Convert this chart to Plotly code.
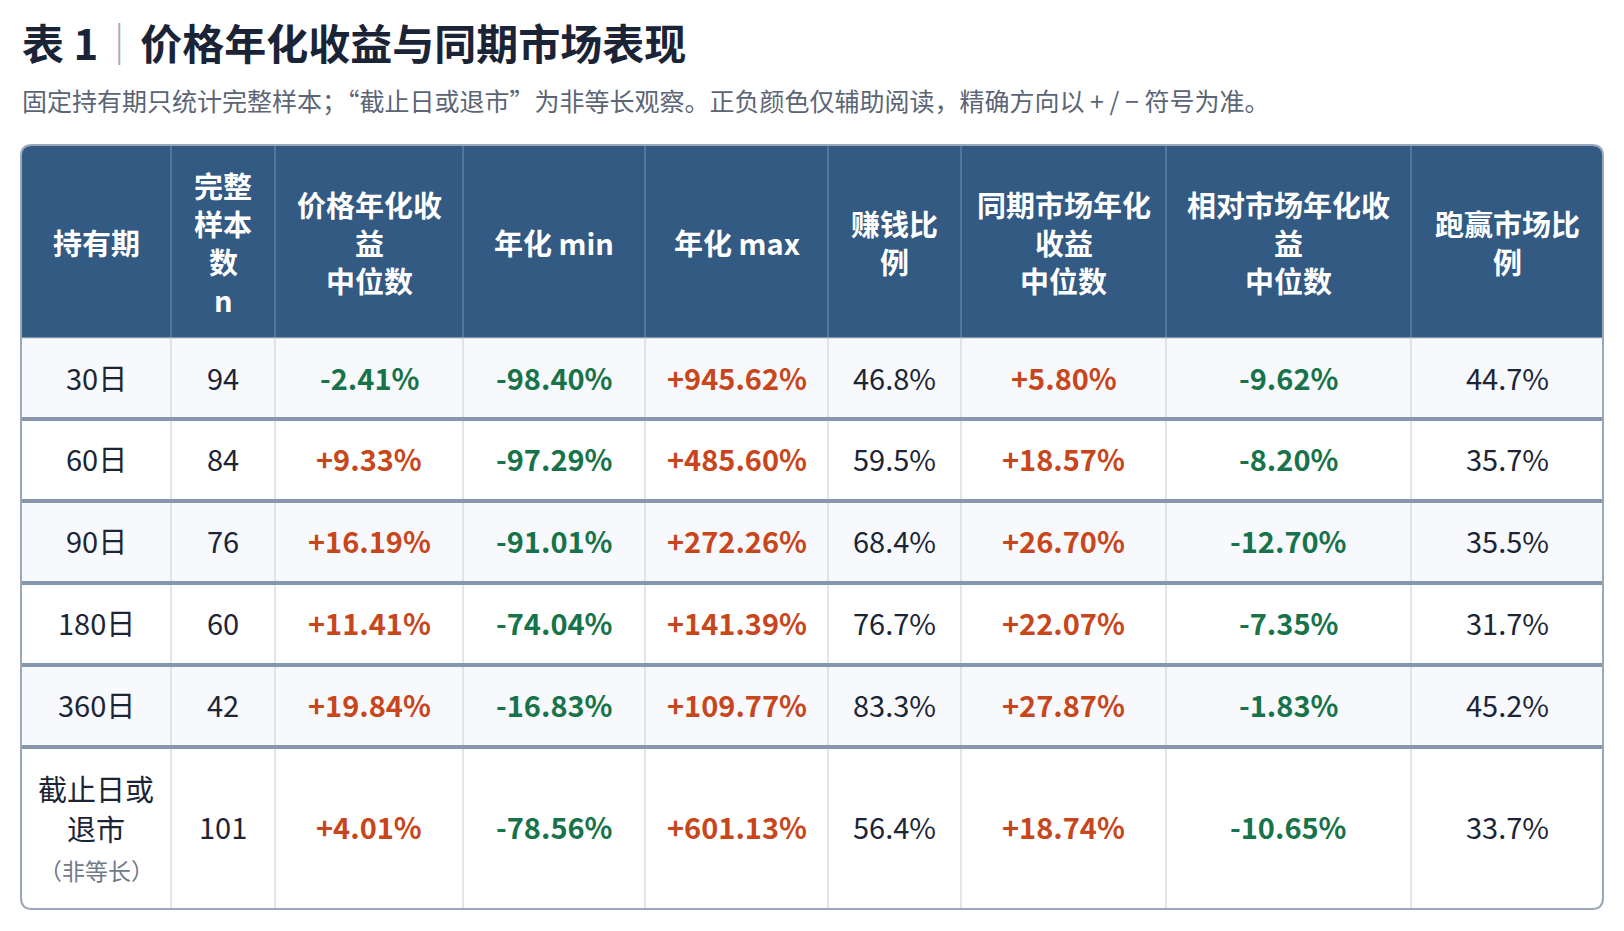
import plotly.graph_objects as go

# 数据
periods = ["30日", "60日", "90日", "180日", "360日", "截止日或退市"]
sample_n = [94, 84, 76, 60, 42, 101]
price_ann_median = [-2.41, 9.33, 16.19, 11.41, 19.84, 4.01]
ann_min = [-98.40, -97.29, -91.01, -74.04, -16.83, -78.56]
ann_max = [945.62, 485.60, 272.26, 141.39, 109.77, 601.13]
win_ratio = [46.8, 59.5, 68.4, 76.7, 83.3, 56.4]
market_ann_median = [5.80, 18.57, 26.70, 22.07, 27.87, 18.74]
rel_ann_median = [-9.62, -8.20, -12.70, -7.35, -1.83, -10.65]
beat_ratio = [44.7, 35.7, 35.5, 31.7, 45.2, 33.7]

headers = [
    ["持有期"],
    ["完整", "样本", "数", "n"],
    ["价格年化收", "益", "中位数"],
    ["年化 min"],
    ["年化 max"],
    ["赚钱比", "例"],
    ["同期市场年化", "收益", "中位数"],
    ["相对市场年化收", "益", "中位数"],
    ["跑赢市场比", "例"],
]

# 版式 (页面像素, body 有 8px 外边距)
FONT = "Noto Sans CJK SC"
HEAD_BG = "#335a82"
STRIPE = "#f7f9fc"
RED = "#c8461b"
GREEN = "#17734a"
INK = "#1b2536"
col_w = [150, 104, 188, 182, 183, 133, 205, 245, 192]
row_h = [81, 82, 82, 82, 82, 162]
left, top, head_h = 21, 145, 193
radius = 11

col_x = [left]
for w in col_w:
    col_x.append(col_x[-1] + w)
row_y = [top + head_h]
for h in row_h:
    row_y.append(row_y[-1] + h)
right, bottom = col_x[-1], row_y[-1]


def signed(v):
    return ("+" if v > 0 else "") + f"{v:.2f}%"


def sign_color(v):
    return RED if v > 0 else GREEN


shapes = []
annotations = []

# 表头底色 (上方圆角)
r = radius
shapes.append(dict(
    type="path", xref="x", yref="y", line=dict(width=0), fillcolor=HEAD_BG, layer="below",
    path=(f"M {left},{top + head_h} L {left},{top + r} Q {left},{top} {left + r},{top} "
          f"L {right - r},{top} Q {right},{top} {right},{top + r} L {right},{top + head_h} Z"),
))

# 斑马纹
for i in range(len(periods)):
    if i % 2 == 0:
        shapes.append(dict(type="rect", xref="x", yref="y", layer="below",
                           x0=left, x1=right, y0=row_y[i], y1=row_y[i + 1],
                           line=dict(width=0), fillcolor=STRIPE))

# 竖线
for x in col_x[1:-1]:
    shapes.append(dict(type="line", xref="x", yref="y", x0=x, x1=x, y0=top, y1=top + head_h,
                       line=dict(color="#7b93b0", width=1)))
    shapes.append(dict(type="line", xref="x", yref="y", x0=x, x1=x, y0=top + head_h, y1=bottom,
                       line=dict(color="#c6cdd8", width=1)))

# 横线
shapes.append(dict(type="line", xref="x", yref="y", x0=left, x1=right,
                   y0=row_y[0], y1=row_y[0], line=dict(color="#c6cdd8", width=1)))
for y in row_y[1:-1]:
    shapes.append(dict(type="line", xref="x", yref="y", x0=left, x1=right, y0=y, y1=y,
                       line=dict(color="#8697ad", width=4)))

# 外框 (圆角)
shapes.append(dict(
    type="path", xref="x", yref="y", line=dict(color="#9aa8ba", width=2),
    path=(f"M {left + r},{top} L {right - r},{top} Q {right},{top} {right},{top + r} "
          f"L {right},{bottom - r} Q {right},{bottom} {right - r},{bottom} "
          f"L {left + r},{bottom} Q {left},{bottom} {left},{bottom - r} "
          f"L {left},{top + r} Q {left},{top} {left + r},{top} Z"),
))


def add_text(x, y, text, size=29, color=INK, bold=False):
    annotations.append(dict(
        x=x, y=y, xref="x", yref="y", text=text, showarrow=False,
        xanchor="center", yanchor="middle",
        font=dict(family=FONT, size=size, color=color, weight="bold" if bold else "normal"),
    ))


# 表头文字
head_mid = top + head_h / 2
line_gap = 38
for j, lines in enumerate(headers):
    cx = (col_x[j] + col_x[j + 1]) / 2
    n = len(lines)
    for k, t in enumerate(lines):
        add_text(cx, head_mid + (k - (n - 1) / 2) * line_gap, t, color="white", bold=True)

# 单元格
for i in range(len(periods)):
    cy = (row_y[i] + row_y[i + 1]) / 2 - 2
    cxs = [(col_x[j] + col_x[j + 1]) / 2 for j in range(len(col_w))]
    if i == len(periods) - 1:
        add_text(cxs[0], cy - 38, periods[i][:4])
        add_text(cxs[0], cy + 2, periods[i][4:])
        add_text(cxs[0], cy + 44, "（非等长）", size=23, color="#6f7a8a")
    else:
        add_text(cxs[0], cy, periods[i])
    add_text(cxs[1], cy, str(sample_n[i]))
    for j, v in [(2, price_ann_median[i]), (3, ann_min[i]), (4, ann_max[i]),
                 (6, market_ann_median[i]), (7, rel_ann_median[i])]:
        add_text(cxs[j], cy, signed(v), color=sign_color(v), bold=True)
    add_text(cxs[5], cy, f"{win_ratio[i]:.1f}%")
    add_text(cxs[8], cy, f"{beat_ratio[i]:.1f}%")

# 标题
annotations.append(dict(
    x=left - 1, y=41, xref="x", yref="y", xanchor="left", yanchor="middle", showarrow=False,
    text="<b>表 1</b><span style='color:#a3abb7'>｜</span><b>价格年化收益与同期市场表现</b>",
    font=dict(family=FONT, size=42, color="#1a2436"),
))
annotations.append(dict(
    x=left - 1, y=100, xref="x", yref="y", xanchor="left", yanchor="middle", showarrow=False,
    text="固定持有期只统计完整样本；“截止日或退市”为非等长观察。正负颜色仅辅助阅读，精确方向以 + / − 符号为准。",
    font=dict(family=FONT, size=25, color="#5b6576"),
))

fig = go.Figure()
fig.update_layout(
    width=1608, height=915,
    margin=dict(l=0, r=0, t=0, b=0),
    paper_bgcolor="white", plot_bgcolor="white",
    xaxis=dict(range=[8, 1616], visible=False, fixedrange=True),
    yaxis=dict(range=[923, 8], visible=False, fixedrange=True),
    shapes=shapes,
    annotations=annotations,
    showlegend=False,
)
fig.write_html("out.html")
